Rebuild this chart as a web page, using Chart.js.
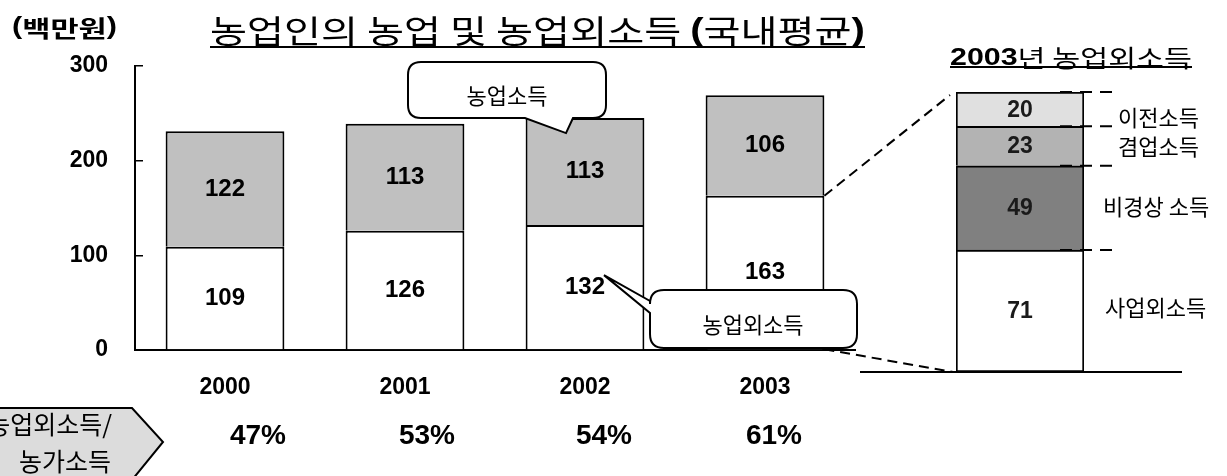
<!DOCTYPE html>
<html>
<head>
<meta charset="utf-8">
<script src="https://cdn.jsdelivr.net/npm/chart.js@4.4.1/dist/chart.umd.min.js"></script>
<style>
  html, body { margin: 0; padding: 0; background: #fff; }
  #wrap { position: relative; width: 1227px; height: 476px; overflow: hidden; }
  #main { position: absolute; left: 0; top: 0; }
  #side { position: absolute; left: 860px; top: 0; }
</style>
</head>
<body>
<div id="wrap">
  <canvas id="main" width="1227" height="476"></canvas>
  <canvas id="side" width="367" height="476"></canvas>
</div>
<script>
  // ── 데이터 ──
  const years     = ['2000', '2001', '2002', '2003'];
  const nonFarm   = [109, 126, 132, 163];   // 농업외소득 (아래)
  const farm      = [122, 113, 113, 106];   // 농업소득 (위)
  const ratioPct  = [47, 53, 54, 61];       // 농업외소득/농가소득
  const yTicks    = [0, 100, 200, 300];

  const sideLabels = ['사업외소득', '비경상 소득', '겸업소득', '이전소득'];
  const sideValues = [71, 49, 23, 20];

  // ── 스타일 ──
  const LATIN = '"Liberation Sans", Arial, "Noto Sans CJK KR", sans-serif';
  const KR    = '"Noto Sans CJK KR", "Liberation Sans", sans-serif';
  const sideColors = ['#ffffff', '#808080', '#b3b3b3', '#e0e0e0'];
  const pctShift   = [33, 22, 19, 9];
  const sideLabelX = [245, 243, 258, 258];
  const sideLabelDy = [-3, -1, 1, 8];
  const SIDE_LEFT = 860;

  // 여러 글꼴 조각을 지정 폭에 맞춰 그리기
  function drawFit(ctx, parts, x, y, width, underlineY) {
    ctx.save();
    ctx.textBaseline = 'middle';
    ctx.textAlign = 'left';
    let total = 0;
    parts.forEach(p => { ctx.font = p.font; p.w = ctx.measureText(p.t).width; total += p.w; });
    const k = width / total;
    ctx.translate(x, y);
    ctx.scale(k, 1);
    let cx = 0;
    ctx.fillStyle = '#000';
    parts.forEach(p => { ctx.font = p.font; ctx.fillText(p.t, cx, 0); cx += p.w; });
    ctx.restore();
    if (underlineY) {
      ctx.save();
      ctx.strokeStyle = '#000';
      ctx.lineWidth = 2;
      ctx.beginPath();
      ctx.moveTo(x, underlineY);
      ctx.lineTo(x + width, underlineY);
      ctx.stroke();
      ctx.restore();
    }
  }

  // 말풍선 (꼬리: bottom 또는 left)
  function callout(ctx, x0, y0, x1, y1, r, tail) {
    ctx.save();
    ctx.beginPath();
    ctx.moveTo(x0 + r, y0);
    ctx.lineTo(x1 - r, y0);
    ctx.quadraticCurveTo(x1, y0, x1, y0 + r);
    ctx.lineTo(x1, y1 - r);
    ctx.quadraticCurveTo(x1, y1, x1 - r, y1);
    if (tail.side === 'bottom') {
      ctx.lineTo(tail.b, y1);
      ctx.lineTo(tail.tx, tail.ty);
      ctx.lineTo(tail.a, y1);
    }
    ctx.lineTo(x0 + r, y1);
    ctx.quadraticCurveTo(x0, y1, x0, y1 - r);
    if (tail.side === 'left') {
      ctx.lineTo(x0, tail.b);
      ctx.lineTo(tail.tx, tail.ty);
      ctx.lineTo(x0, tail.a);
    }
    ctx.lineTo(x0, y0 + r);
    ctx.quadraticCurveTo(x0, y0, x0 + r, y0);
    ctx.closePath();
    ctx.fillStyle = '#fff';
    ctx.fill();
    ctx.strokeStyle = '#000';
    ctx.lineWidth = 2;
    ctx.stroke();
    ctx.font = '22px ' + KR;
    ctx.fillStyle = '#000';
    ctx.textAlign = 'center';
    ctx.textBaseline = 'middle';
    ctx.fillText(tail.text, tail.lx, tail.ly);
    ctx.restore();
  }

  function dashed(ctx, x0, y0, x1, y1, dash) {
    ctx.save();
    ctx.strokeStyle = '#000';
    ctx.lineWidth = 2;
    ctx.setLineDash(dash || [10, 6]);
    ctx.beginPath();
    ctx.moveTo(x0, y0);
    ctx.lineTo(x1, y1);
    ctx.stroke();
    ctx.restore();
  }

  // ── 2003년 농업외소득 (오른쪽 막대) ──
  const sideAnnot = {
    id: 'sideAnnot',
    afterDatasetsDraw(chart) {
      const ctx = chart.ctx;
      const area = chart.chartArea;
      // 기준선
      ctx.save();
      ctx.strokeStyle = '#000';
      ctx.lineWidth = 2;
      ctx.beginPath();
      ctx.moveTo(0, area.bottom);
      ctx.lineTo(322, area.bottom);
      ctx.stroke();
      ctx.restore();

      chart.data.datasets.forEach((ds, i) => {
        const el = chart.getDatasetMeta(i).data[0];
        const p = el.getProps(['x', 'y', 'base'], true);
        // 값
        ctx.save();
        ctx.font = 'bold 23px ' + LATIN;
        ctx.fillStyle = '#1a1a1a';
        ctx.textAlign = 'center';
        ctx.textBaseline = 'middle';
        ctx.fillText(String(ds.data[0]), p.x, (p.y + p.base) / 2 + 1);
        // 항목명
        ctx.font = '22px ' + KR;
        ctx.fillStyle = '#000';
        ctx.textAlign = 'left';
        ctx.fillText(ds.label, sideLabelX[i], (p.y + p.base) / 2 + sideLabelDy[i]);
        ctx.restore();
        // 경계 점선
        dashed(ctx, 200, p.y, 260, p.y, [12, 8]);
      });
    }
  };

  const sideChart = new Chart(document.getElementById('side'), {
    type: 'bar',
    data: {
      labels: ['2003'],
      datasets: sideValues.map((v, i) => ({
        label: sideLabels[i],
        data: [v],
        backgroundColor: sideColors[i],
        borderColor: '#000',
        borderWidth: 2,
        borderSkipped: i === 0 ? false : 'start',
      })),
    },
    options: {
      responsive: false,
      animation: false,
      devicePixelRatio: 1,
      layout: { padding: { left: 96, right: 143, top: 92, bottom: 104 } },
      plugins: { legend: { display: false }, tooltip: { enabled: false } },
      datasets: { bar: { categoryPercentage: 1, barPercentage: 1 } },
      scales: {
        x: { stacked: true, display: false },
        y: { stacked: true, display: false, min: 0, max: sideValues.reduce((a, b) => a + b, 0) },
      },
    },
    plugins: [sideAnnot],
  });

  // ── 본 차트 주석 ──
  const mainAnnot = {
    id: 'mainAnnot',
    afterDraw(chart) {
      const ctx = chart.ctx;
      const x = chart.scales.x;

      // 단위, 제목
      drawFit(ctx, [{ t: '(', font: 'bold 23px ' + LATIN }, { t: '백만원', font: 'bold 23px ' + KR }, { t: ')', font: 'bold 23px ' + LATIN }], 12, 28, 105);
      drawFit(ctx, [
        { t: '농업인의 농업 및 농업외소득 ', font: '32px ' + KR },
        { t: '(', font: 'bold 32px ' + LATIN },
        { t: '국내평균', font: '32px ' + KR },
        { t: ')', font: 'bold 32px ' + LATIN },
      ], 210, 31, 655, 47);
      drawFit(ctx, [
        { t: '2003', font: 'bold 24px ' + LATIN },
        { t: '년 농업외소득', font: '24px ' + KR },
      ], 950, 58, 242, 67);

      // 막대 안 값
      chart.data.datasets.forEach((ds, i) => {
        chart.getDatasetMeta(i).data.forEach((el, j) => {
          const p = el.getProps(['x', 'y', 'base'], true);
          ctx.save();
          ctx.font = 'bold 24px ' + LATIN;
          ctx.fillStyle = '#000';
          ctx.textAlign = 'center';
          ctx.textBaseline = 'middle';
          ctx.fillText(String(ds.data[j]), p.x, (p.y + p.base) / 2);
          ctx.restore();
        });
      });

      // 2003 막대 → 오른쪽 막대 연결 점선
      const b3 = chart.getDatasetMeta(0).data[3].getProps(['x', 'y', 'base', 'width'], true);
      const sa = sideChart.chartArea;
      dashed(ctx, b3.x + b3.width / 2, b3.y, SIDE_LEFT + sa.left - 6, sa.top + 3);
      dashed(ctx, b3.x + b3.width / 2, b3.base, SIDE_LEFT + sa.left - 3, sa.bottom);

      // 말풍선
      const top2 = chart.getDatasetMeta(1).data[2].getProps(['x', 'y'], true);
      callout(ctx, 408, 62, 606, 118, 13, {
        side: 'bottom', a: 525, b: 573, tx: top2.x - 19, ty: top2.y + 15,
        text: '농업소득', lx: 507, ly: 96,
      });
      const low2 = chart.getDatasetMeta(0).data[2].getProps(['x', 'y', 'base'], true);
      callout(ctx, 650, 290, 857, 348, 14, {
        side: 'left', a: 301, b: 313, tx: low2.x + 19, ty: (low2.y + low2.base) / 2 - 12,
        text: '농업외소득', lx: 753, ly: 325,
      });

      // 비율 행
      ctx.save();
      ctx.beginPath();
      ctx.moveTo(-5, 408);
      ctx.lineTo(132, 408);
      ctx.lineTo(163, 442);
      ctx.lineTo(132, 480);
      ctx.lineTo(-5, 480);
      ctx.closePath();
      ctx.fillStyle = '#dcdcdc';
      ctx.fill();
      ctx.strokeStyle = '#000';
      ctx.lineWidth = 2;
      ctx.stroke();
      ctx.fillStyle = '#000';
      ctx.textAlign = 'right';
      ctx.textBaseline = 'middle';
      ctx.font = '25px ' + KR;
      ctx.fillText('농업외소득/', 112, 424);
      ctx.fillText('농가소득', 111, 461);
      ctx.font = 'bold 28px ' + LATIN;
      ctx.textAlign = 'center';
      ratioPct.forEach((v, i) => {
        ctx.fillText(v + '%', x.getPixelForValue(i) + pctShift[i], 436);
      });
      ctx.restore();
    }
  };

  new Chart(document.getElementById('main'), {
    type: 'bar',
    data: {
      labels: years,
      datasets: [
        { label: '농업외소득', data: nonFarm, backgroundColor: '#ffffff', borderColor: '#000', borderWidth: 2, borderSkipped: 'start' },
        { label: '농업소득', data: farm, backgroundColor: '#c0c0c0', borderColor: '#000', borderWidth: 2, borderSkipped: 'start' },
      ],
    },
    options: {
      responsive: false,
      animation: false,
      devicePixelRatio: 1,
      layout: { padding: { left: 0, top: 66, right: 372, bottom: 0 } },
      plugins: { legend: { display: false }, tooltip: { enabled: false } },
      datasets: { bar: { categoryPercentage: 1, barPercentage: 0.66 } },
      scales: {
        x: {
          stacked: true,
          grid: { display: false, drawTicks: false },
          border: { display: true, color: '#000', width: 2 },
          ticks: { color: '#000', font: { family: LATIN, size: 23, weight: 'bold' }, padding: 24 },
          afterFit(s) { s.height = 126; },
        },
        y: {
          stacked: true,
          min: 0,
          max: 300,
          afterBuildTicks(s) { s.ticks = yTicks.map(v => ({ value: v })); },
          grid: { drawOnChartArea: false, drawTicks: true, tickLength: -8, color: '#000', lineWidth: 1.5 },
          border: { color: '#000', width: 2 },
          ticks: { color: '#000', font: { family: LATIN, size: 23, weight: 'bold' }, padding: 35 },
          afterFit(s) { s.width = 135; },
        },
      },
    },
    plugins: [mainAnnot],
  });
</script>
</body>
</html>
